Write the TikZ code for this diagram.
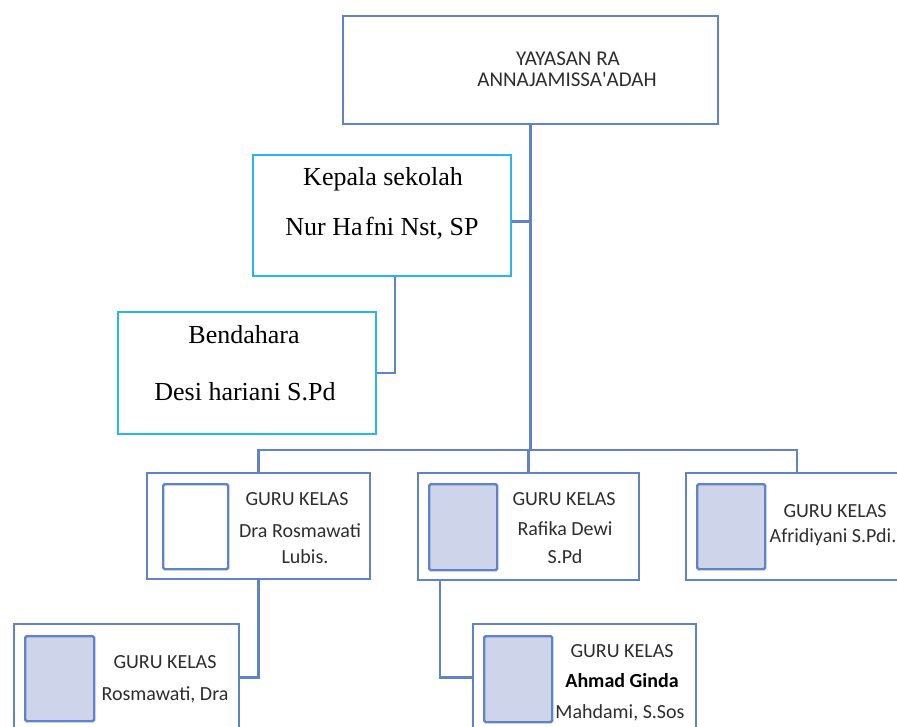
\documentclass[tikz,border=0pt]{standalone}
\usepackage{fontspec}
\setmainfont{Liberation Serif}
\newfontfamily\gurufont{Carlito}
\definecolor{boxblue}{RGB}{96,130,200}
\definecolor{boxcyan}{RGB}{41,182,240}
\definecolor{photofill}{RGB}{206,212,234}
\definecolor{textgray}{RGB}{45,45,45}
\tikzset{
  orgbox/.style={draw=boxblue, line width=2pt, anchor=north west, inner sep=0pt},
  headbox/.style={draw=boxcyan, line width=2pt, anchor=north west, inner sep=0pt},
  photo/.style={draw=boxblue, line width=2.4pt, fill=photofill, rounded corners=1.5pt,
    anchor=north west, inner sep=0pt},
  link/.style={draw=boxblue, line width=2.2pt},
  sanstext/.style={font=\gurufont\fontsize{20}{24}\selectfont, text=textgray,
    anchor=base, inner sep=0pt},
  toptext/.style={sanstext, font=\gurufont\fontsize{21}{24}\selectfont},
  seriftext/.style={font=\fontsize{26}{30}\selectfont, anchor=base, inner sep=0pt},
}
\begin{document}
\begin{tikzpicture}[x=1pt,y=-1pt]
        \useasboundingbox (0,0) rectangle (897,726);
        \clip (0,0) rectangle (897,726);

        % Draw the top box
        \node[orgbox, minimum width=375, minimum height=108] (yayasan) at (342,15) {};
        \node[toptext] (yayasan1) at (568,65) {YAYASAN RA};
        \node[toptext] (yayasan2) at (567,86) {ANNAJAMISSA'ADAH};

        % Draw the head and treasurer
        \node[headbox, minimum width=258, minimum height=121] (kepala) at (252,154) {};
        \node[seriftext] (kepala1) at (383,185) {Kepala sekolah};
        \node[seriftext] (kepala2) at (382,235) {Nur Ha\kern2.5pt fni Nst, SP};
        \node[headbox, minimum width=258, minimum height=122] (bendahara) at (117,311) {};
        \node[seriftext] (bendahara1) at (244,343) {Bendahara};
        \node[seriftext] (bendahara2) at (245,400) {Desi hariani S.Pd};

        % Draw the class teachers
        \node[orgbox, minimum width=223, minimum height=106] (guru1) at (146,472) {};
        \node[photo, fill=white, minimum width=65, minimum height=85] (foto1) at (162,483) {};
        \node[sanstext] (guru1a) at (297,505) {GURU KELAS};
        \node[sanstext] (guru1b) at (300,537) {Dra Rosmawati};
        \node[sanstext] (guru1c) at (305,563) {Lubis.};

        \node[orgbox, minimum width=221, minimum height=107] (guru2) at (417,472) {};
        \node[photo, minimum width=68, minimum height=86] (foto2) at (428,483) {};
        \node[sanstext] (guru2a) at (564,505) {GURU KELAS};
        \node[sanstext] (guru2b) at (565,535) {Rafika Dewi};
        \node[sanstext] (guru2c) at (565,563) {S.Pd};

        \node[orgbox, minimum width=222, minimum height=107] (guru3) at (685,472) {};
        \node[photo, minimum width=68, minimum height=85] (foto3) at (696,483) {};
        \node[sanstext] (guru3a) at (835,517) {GURU KELAS};
        \node[sanstext] (guru3b) at (833,542) {Afridiyani S.Pdi.};

        \node[orgbox, minimum width=225, minimum height=107] (guru4) at (13,623) {};
        \node[photo, minimum width=69, minimum height=85] (foto4) at (24,635) {};
        \node[sanstext] (guru4a) at (165,668) {GURU KELAS};
        \node[sanstext] (guru4b) at (165,700) {Rosmawati, Dra};

        \node[orgbox, minimum width=223, minimum height=107] (guru5) at (472,623) {};
        \node[photo, minimum width=68, minimum height=86] (foto5) at (483,635) {};
        \node[sanstext] (guru5a) at (622,657) {GURU KELAS};
        \node[sanstext, text=black, font=\gurufont\bfseries\fontsize{20}{24}\selectfont] (guru5b) at (622,687) {Ahmad Ginda};
        \node[sanstext] (guru5c) at (620,718) {Mahdami, S.Sos};

        % Draw the connectors
        \coordinate (bus) at (528,450);
        \coordinate (kdrop) at ([xshift=13pt]kepala.south);
        \coordinate (gdrop) at ([xshift=23pt]guru2.south west);
        \draw[link] (yayasan.south) -- (yayasan.south |- bus);
        \draw[link] ([yshift=-6pt]kepala.east) -- ([yshift=-6pt]kepala.east -| yayasan.south);
        \draw[link] (kdrop) |- (bendahara.east);
        \draw[link] (guru1.north) -- (guru1.north |- bus) -- (guru3.north |- bus) -- (guru3.north);
        \draw[link] (guru2.north) -- (guru2.north |- bus);
        \draw[link] (guru1.south) |- (guru4.east);
        \draw[link] (gdrop) |- (guru5.west);
    \end{tikzpicture}
\end{document}
